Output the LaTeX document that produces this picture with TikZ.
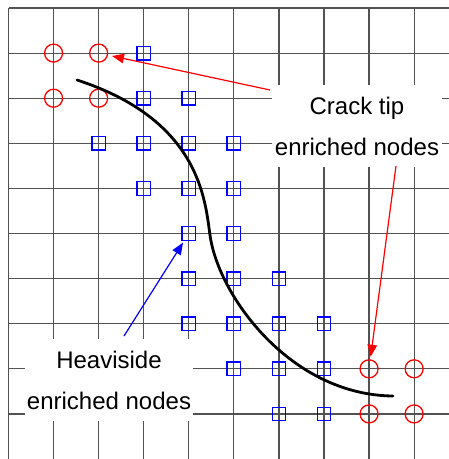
\documentclass[tikz,border=0pt]{standalone}
\usepackage{fontspec}
\setmainfont{Liberation Sans}
\usetikzlibrary{arrows.meta}
\begin{document}
\begin{tikzpicture}[x=1pt,y=-1pt,
  gridline/.style={draw=black!68,line width=1.2pt},
  tipnode/.style={circle,draw=red,line width=1.3pt,minimum size=18pt,inner sep=0pt},
  hvnode/.style={rectangle,draw=blue,line width=1.3pt,minimum size=13.5pt,inner sep=0pt},
  crack/.style={line width=2.8pt,line cap=round},
  lbl/.style={fill=white,inner sep=0pt,minimum width=170pt,minimum height=82pt,align=center,font=\fontsize{24}{41}\selectfont},
  redarrow/.style={draw=red,line width=1.2pt,-{Triangle[length=12pt,width=9.5pt]}},
  bluearrow/.style={draw=blue,line width=1.2pt,-{Triangle[length=12pt,width=9.5pt]}}]
\useasboundingbox (0,0) rectangle (449,459);
\foreach \i in {0,...,9} { \draw[gridline] ({8.5+45.07*\i},8) -- ({8.5+45.07*\i},459); }
\foreach \j in {0,...,9} { \draw[gridline] (8.5,{8+45.1*\j}) -- (449,{8+45.1*\j}); }
\foreach \i/\j in {3/1,3/2,4/2,2/3,3/3,4/3,5/3,3/4,4/4,5/4,4/5,5/5,4/6,5/6,6/6,4/7,5/7,6/7,7/7,5/8,6/8,7/8,6/9,7/9}
  { \node[hvnode] (s\i\j) at ({8.5+45.07*\i},{8+45.1*\j}) {}; }
\foreach \i/\j in {1/1,2/1,1/2,2/2,8/8,9/8,8/9,9/9}
  { \node[tipnode] (c\i\j) at ({8.5+45.07*\i},{8+45.1*\j}) {}; }
\draw[crack] (77,80) .. controls (200,120) and (205,200) .. (210,235) .. controls (218,295) and (290,395) .. (393,396);
\node[lbl] (ct) at (357,126) {Crack tip\\enriched nodes};
\node[lbl,minimum width=168pt] (hv) at (109,380) {Heaviside\\enriched nodes};
\coordinate (ct1) at (270,90);
\coordinate (ct2) at (396,166);
\coordinate (hv1) at (124,336);
\draw[redarrow,shorten >=4pt] (ct1) -- (c21);
\draw[redarrow,shorten >=2.5pt] (ct2) -- (c88);
\draw[bluearrow,shorten >=2pt] (hv1) -- (s45);
\end{tikzpicture}
\end{document}
